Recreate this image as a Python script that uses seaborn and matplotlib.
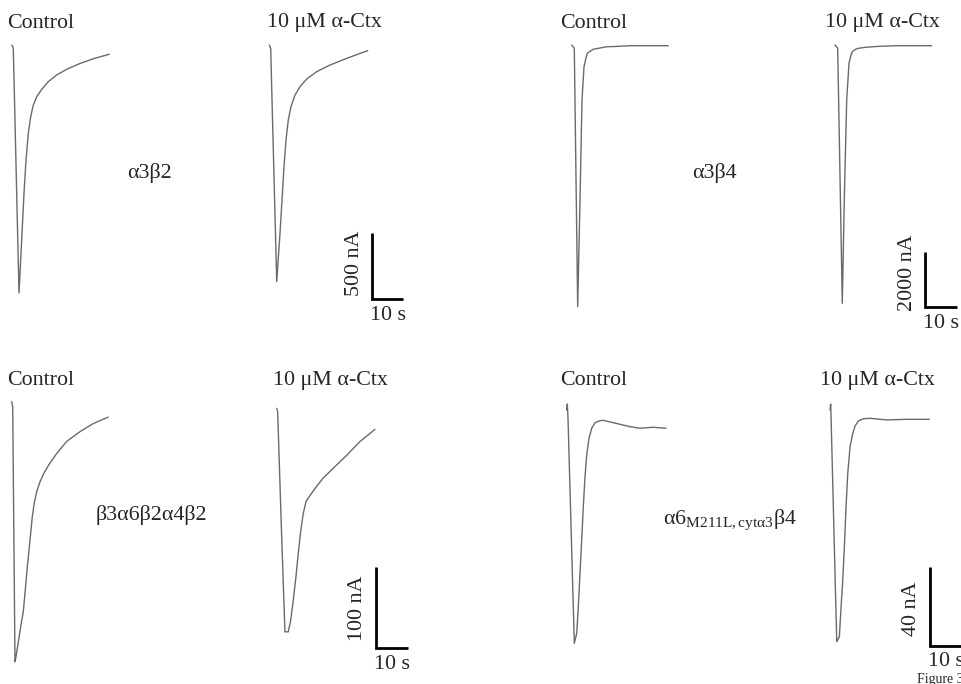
import matplotlib
matplotlib.use("Agg")
import matplotlib.pyplot as plt
import seaborn as sns

# --- traces: time (s) from onset, current (nA) relative to the holding baseline ---
# a3b2
a3b2_ctrl_t = [0, 0.42, 2.26, 2.58, 3.23, 3.87, 4.52, 5.26, 6.03, 6.87, 7.97, 9.58,
               11.71, 14.42, 17.65, 21.94, 26.23, 31.39]
a3b2_ctrl_i = [0, -25, -1879, -1730, -1427, -1124, -871, -669, -543, -455, -392, -336,
               -278, -227, -184, -140, -104, -70]
a3b2_ctx_t = [0, 0.45, 2.39, 3.45, 4.10, 4.74, 5.39, 6.13, 7.0, 8.29, 9.90, 12.06,
              15.29, 19.58, 24.97, 31.74]
a3b2_ctx_i = [0, -25, -1793, -1427, -1174, -922, -720, -568, -467, -379, -316, -258,
              -202, -152, -101, -43]

# a3b4
a3b4_ctrl_t = [0, 0.82, 1.89, 2.62, 3.25, 3.88, 4.51, 4.92, 5.46, 6.81, 8.93, 11.04,
               13.66, 18.39, 30.47]
a3b4_ctrl_i = [0, -118, -9395, -5564, -1975, -779, -467, -298, -251, -154, -108, -61,
               -54, -25, -25]
a3b4_ctx_t = [0, 0.85, 2.30, 2.93, 3.69, 4.42, 5.0, 5.46, 6.2, 7.35, 9.5, 12.08,
              14.5, 19.46, 30.50]
a3b4_ctx_i = [0, -118, -9273, -5564, -1975, -657, -380, -241, -170, -118, -85, -61,
              -45, -25, -25]

# b3a6b2a4b2
b3a6_ctrl_t = [0, 0.31, 1.03, 1.34, 2.06, 2.81, 3.63, 4.16, 4.88, 5.72, 6.44, 7.06,
               7.81, 8.84, 10.09, 11.75, 14.06, 17.19, 21.34, 25.5, 30.19]
b3a6_ctrl_i = [0, -6, -321, -315, -297, -278, -259, -236, -204, -171, -142, -125,
               -111, -99, -88, -77, -64, -49, -37, -27, -19]
b3a6_ctx_t = [0, 0.31, 1.56, 2.59, 3.63, 4.38, 5.19, 6.03, 6.75, 7.5, 8.31, 9.16,
              10.19, 11.97, 14.56, 17.69, 21.88, 26.03, 30.72]
b3a6_ctx_i = [0, -4, -158, -276, -276, -262, -237, -208, -179, -152, -130, -115,
              -109, -99, -86, -74, -58, -41, -26]

# a6(M211L,cyt a3)b4
a6b4_ctrl_t = [0, 0.19, 0.41, 2.38, 3.13, 3.63, 4.16, 4.69, 5.19, 5.72, 6.25, 6.97,
               7.81, 8.84, 10.41, 11.44, 13.53, 16.66, 19.78, 22.91, 27.06, 31.03]
a6b4_ctrl_i = [0, 3.0, -4.2, -117.6, -112.5, -99.1, -82.3, -65.5, -48.7, -33.6, -22.7,
               -14.3, -9.2, -6.4, -5.4, -5.2, -6.0, -7.2, -8.4, -9.2, -8.7, -9.2]
a6b4_ctx_t = [0, 0.19, 0.31, 2.09, 2.91, 3.44, 3.97, 4.47, 5.0, 5.53, 6.25, 7.09,
              7.81, 8.84, 10.41, 12.5, 17.72, 23.97, 31.03]
a6b4_ctx_i = [0, 3.0, -3.4, -116.8, -114.3, -99.2, -85.7, -68.9, -48.7, -31.9, -18.5,
              -11.8, -8.1, -5.5, -4.4, -4.2, -5.0, -4.7, -4.7]

receptors = ["α3β2", "α3β4", "β3α6β2α4β2", r"$\mathrm{α6_{M211L,cytα3}β4}$"]
scale_nA = [500, 2000, 100, 40]
scale_s = 10

W, H = 962, 684
sns.set_style("white")
plt.rcParams["font.family"] = ["Liberation Serif", "DejaVu Serif"]
plt.rcParams["mathtext.fontset"] = "custom"
plt.rcParams["mathtext.rm"] = "Liberation Serif"
plt.rcParams["mathtext.it"] = "Liberation Serif:italic"

# layout: panel box (px), onset pixel, px per s, nA per px, ctx shift (s, nA), bar corner (s, nA)
PANELS = [
    dict(box=(0, 0, 481, 342), x0=12, y0=45, sx=3.1, ky=7.576, dt=83.0, di=0,
         bar=(116.2, -1927), lab_dy=3, ctrl=(a3b2_ctrl_t, a3b2_ctrl_i), ctx=(a3b2_ctx_t, a3b2_ctx_i)),
    dict(box=(481, 0, 481, 342), x0=571.7, y0=45, sx=3.17, ky=35.9, dt=83.06, di=0,
         bar=(111.5, -9417), lab_dy=7, ctrl=(a3b4_ctrl_t, a3b4_ctrl_i), ctx=(a3b4_ctx_t, a3b4_ctx_i)),
    dict(box=(0, 342, 481, 342), x0=11.7, y0=401.7, sx=3.2, ky=1.235, dt=82.8, di=-8.2,
         bar=(113.75, -304.6), lab_dy=0, ctrl=(b3a6_ctrl_t, b3a6_ctrl_i), ctx=(b3a6_ctx_t, b3a6_ctx_i)),
    dict(box=(481, 342, 481, 342), x0=566.7, y0=410, sx=3.2, ky=0.504, dt=82.3, di=0,
         bar=(113.5, -118.9), lab_dy=-3, ctrl=(a6b4_ctrl_t, a6b4_ctrl_i), ctx=(a6b4_ctx_t, a6b4_ctx_i)),
]

TRACE = dict(color="#6a6a6a", lw=1.0)
FS = 15.8

fig = plt.figure(figsize=(W / 100, H / 100), dpi=100)

for p, scale, name in zip(PANELS, scale_nA, receptors):
    left, top, w, h = p["box"]
    ax = fig.add_axes([left / W, 1 - (top + h) / H, w / W, h / H])
    ax.set_xlim((left - p["x0"]) / p["sx"], (left + w - p["x0"]) / p["sx"])
    ax.set_ylim((p["y0"] - (top + h)) * p["ky"], (p["y0"] - top) * p["ky"])
    ax.axis("off")

    t, i = p["ctrl"]
    sns.lineplot(x=t, y=i, ax=ax, estimator=None, sort=False, **TRACE)
    t, i = p["ctx"]
    sns.lineplot(x=[v + p["dt"] for v in t], y=[v + p["di"] for v in i], ax=ax,
                 estimator=None, sort=False, **TRACE)

    # scale bar
    bx, by = p["bar"]
    ax.plot([bx, bx, bx + scale_s], [by + scale, by, by], color="black", lw=2.0,
            solid_joinstyle="miter", solid_capstyle="butt", clip_on=False)
    ax.annotate(f"{scale} nA", xy=(bx, by + scale / 2), xytext=(-18, p["lab_dy"]),
                textcoords="offset pixels", rotation=90, ha="center", va="center", fontsize=FS)
    ax.annotate(f"{scale_s} s", xy=(bx + scale_s / 2, by), xytext=(0, -16),
                textcoords="offset pixels", ha="center", va="center", fontsize=FS,
                annotation_clip=False)


def ftext(x, y, s, **kw):
    fig.text(x / W, 1 - y / H, s, fontsize=kw.pop("fontsize", FS), **kw)


# condition labels
for x, y in [(7, 23), (560, 23), (7, 381), (560, 381)]:
    ftext(x, y, "Control", va="center")
for x, y in [(267, 23), (825, 23), (273, 381), (820, 381)]:
    ftext(x, y, "10 μM α-Ctx", va="center")

# receptor labels
ftext(150, 173, receptors[0], ha="center", va="center")
ftext(714, 173, receptors[1], ha="center", va="center")
ftext(151, 515, receptors[2], ha="center", va="center")
ftext(663, 524, receptors[3], ha="left", va="baseline")

ftext(917, 679, "Figure 3", fontsize=10, va="center")

fig.savefig("out.png", dpi=100)
